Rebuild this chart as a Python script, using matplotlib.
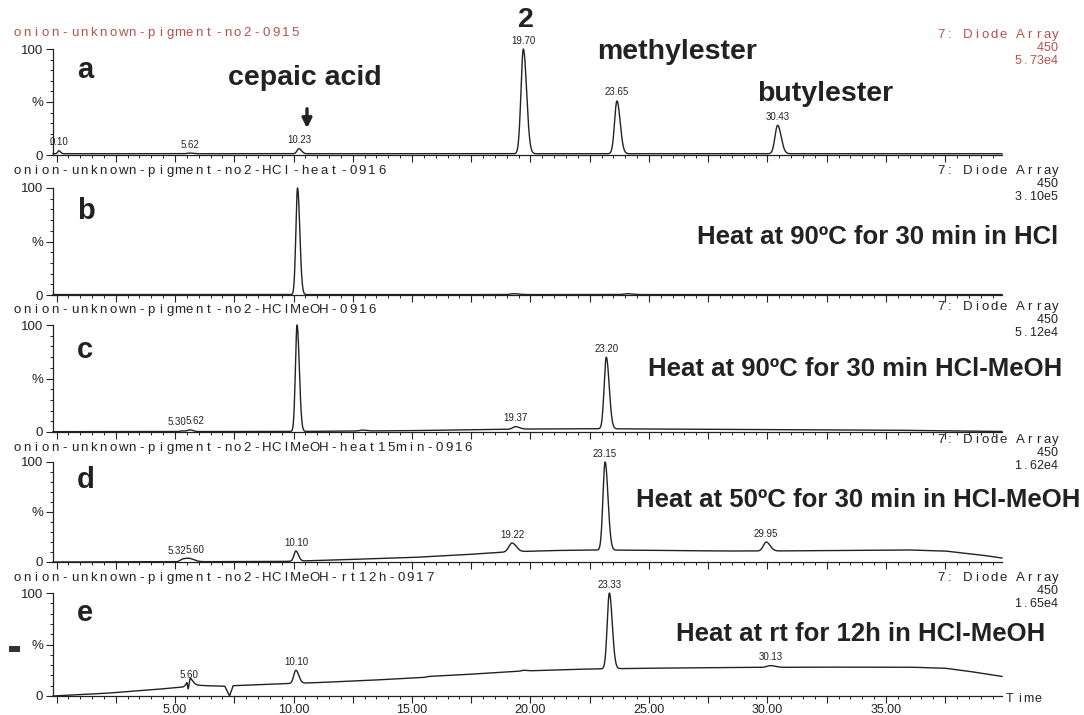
import numpy as np
import matplotlib

matplotlib.use('Agg')
import matplotlib.pyplot as plt
from matplotlib.ticker import MultipleLocator, FuncFormatter
from matplotlib.patches import Rectangle, FancyArrowPatch

W, H = 1084, 715

# run headers
run_names = [
    'onion-unknown-pigment-no2-0915',
    'onion-unknown-pigment-no2-HCl-heat-0916',
    'onion-unknown-pigment-no2-HClMeOH-0916',
    'onion-unknown-pigment-no2-HClMeOH-heat15min-0916',
    'onion-unknown-pigment-no2-HClMeOH-rt12h-0917',
]
panel_letters = ['a', 'b', 'c', 'd', 'e']
channel = '7: Diode Array'
wavelength = '450'
full_scale = ['5.73e4', '3.10e5', '5.12e4', '1.62e4', '1.65e4']
conditions = [
    '',
    'Heat at 90ºC for 30 min in HCl',
    'Heat at 90ºC for 30 min HCl-MeOH',
    'Heat at 50ºC for 30 min in HCl-MeOH',
    'Heat at rt for 12h in HCl-MeOH',
]

# peaks: retention time (min), apex (% of full scale), width (min), labelled?
a_rt = [0.10, 5.62, 10.23, 19.70, 23.65, 30.43]
a_top = [4.0, 1.8, 6.0, 100.0, 51.0, 28.0]
a_sig = [0.05, 0.10, 0.08, 0.10, 0.10, 0.11]
a_lab = [True, True, True, True, True, True]
a_base_t = [-0.15, 39.9]
a_base_y = [1.2, 1.2]

b_rt = [10.17, 19.30, 24.10]
b_top = [100.0, 1.2, 1.2]
b_sig = [0.07, 0.15, 0.15]
b_lab = [False, False, False]
b_base_t = [-0.15, 39.9]
b_base_y = [0.4, 0.4]

c_rt = [5.30, 5.62, 10.15, 12.90, 19.37, 23.20]
c_top = [1.0, 2.0, 100.0, 1.8, 5.0, 70.0]
c_sig = [0.08, 0.10, 0.07, 0.12, 0.12, 0.09]
c_lab = [True, True, False, False, True, True]
c_base_t = [-0.15, 10, 12, 15, 18, 20, 23, 27, 30, 35, 37, 39.9]
c_base_y = [0.3, 0.5, 0.8, 1.3, 2.2, 2.8, 3.0, 2.7, 2.3, 1.8, 1.2, 0.5]

d_rt = [5.32, 5.60, 10.10, 19.22, 23.15, 29.95]
d_top = [2.5, 3.5, 11.0, 19.0, 100.0, 20.0]
d_sig = [0.10, 0.15, 0.08, 0.13, 0.09, 0.12]
d_lab = [True, True, True, True, True, True]
d_base_t = [-0.15, 9.5, 11, 13, 15, 17, 19, 21, 23, 26, 28, 30, 33, 36, 37.5, 39, 39.9]
d_base_y = [0, 0.5, 1.5, 3, 4.5, 7, 10, 11.5, 12, 11.5, 11, 11, 11.5, 12, 11, 7, 4]

e_rt = [5.60, 10.10, 23.33, 30.13]
e_top = [12.5, 25.0, 100.0, 29.5]
e_sig = [0.10, 0.09, 0.09, 0.15]
e_lab = [True, True, True, True]
e_base_t = [-0.15, 2, 4, 5.5, 5.56, 5.64, 6.3, 7.1, 7.3, 7.45, 9, 11, 13, 15.5, 15.7,
            17, 19.5, 19.7, 20, 22, 25, 28, 32, 36, 37.5, 38.5, 39.9]
e_base_y = [0, 2.5, 6, 9, 0.5, 11, 10, 9.5, 0, 10, 11.5, 13, 15, 18, 19,
            20.5, 24, 25, 24.5, 26, 27, 27.5, 28, 28, 27, 24, 19]

peaks = [
    (a_rt, a_top, a_sig, a_lab, a_base_t, a_base_y),
    (b_rt, b_top, b_sig, b_lab, b_base_t, b_base_y),
    (c_rt, c_top, c_sig, c_lab, c_base_t, c_base_y),
    (d_rt, d_top, d_sig, d_lab, d_base_t, d_base_y),
    (e_rt, e_top, e_sig, e_lab, e_base_t, e_base_y),
]

# axes boxes in pixels: top (100 %) and bottom (0 %) rows
ax_rows = [(49, 155), (188, 295), (325, 432), (462, 562), (593, 696)]
ax_left, ax_right = 53, 1002
title_y = [33, 171, 310, 448, 578]
channel_y = [35, 171, 307, 440, 578]
letter_y = [70, 211, 350, 480, 613]
cond_xy = [None, (1058, 237), (1062, 369), (1080, 500), (1045, 634)]

ink = '#222222'
red = '#b5524a'
small_font = 'Liberation Sans'


def fx(px):
    return px / W


def fy(py):
    return 1 - py / H


def spaced(x, y, s, step, ha='left', **kw):
    # typewriter-like spacing of the instrument printout
    x0 = x if ha == 'left' else x - step * len(s)
    for i, ch in enumerate(s):
        fig.text(fx(x0 + step * (i + 0.5)), fy(y), ch, ha='center', va='center',
                 family=small_font, **kw)


def trace(t, rt, top, sig, base_t, base_y):
    y = np.interp(t, base_t, base_y)
    for r, h, s in zip(rt, top, sig):
        amp = h - np.interp(r, base_t, base_y)
        sd = np.where(t < r, s, 1.35 * s)
        y = y + amp * np.exp(-0.5 * ((t - r) / sd) ** 2)
    return y


fig = plt.figure(figsize=(W / 100, H / 100), dpi=100)
t = np.linspace(-0.15, 39.9, 6000)

for i, (rt, top, sig, lab, bt, by) in enumerate(peaks):
    top_px, bot_px = ax_rows[i]
    ax = fig.add_axes([fx(ax_left), fy(bot_px), fx(ax_right - ax_left), (bot_px - top_px) / H])
    ax.plot(t, trace(t, rt, top, sig, bt, by), color=ink, lw=1.0, clip_on=False)
    ax.set_xlim(-0.15, 39.9)
    ax.set_ylim(0, 100)
    for side in ('top', 'right'):
        ax.spines[side].set_visible(False)
    ax.spines['left'].set_bounds(0, 100)
    for side in ('left', 'bottom'):
        ax.spines[side].set_linewidth(0.9)
        ax.spines[side].set_color(ink)
    ax.set_yticks([0, 50, 100])
    ax.set_yticklabels(['0', '%', '100'], family=small_font, fontsize=9.5, color=ink)
    ax.yaxis.set_minor_locator(MultipleLocator(10))
    ax.xaxis.set_major_locator(MultipleLocator(2.5))
    ax.xaxis.set_minor_locator(MultipleLocator(0.5))
    ax.tick_params(axis='both', which='major', direction='out', length=5, width=0.8, color=ink)
    ax.tick_params(axis='both', which='minor', direction='out', length=2.5, width=0.7, color=ink)
    ax.tick_params(axis='y', pad=2)
    ax.patch.set_alpha(0)
    if i == len(peaks) - 1:
        ax.xaxis.set_major_formatter(FuncFormatter(
            lambda v, p: '%.2f' % v if v > 0 and abs(v / 5 - round(v / 5)) < 1e-6 else ''))
        for lbl in ax.get_xticklabels():
            lbl.set_family(small_font)
        ax.tick_params(axis='x', labelsize=9, labelcolor=ink, pad=0.5)
    else:
        ax.tick_params(axis='x', labelbottom=False)

    # retention time labels over the apexes; close neighbours sit side by side
    for k, (r, h, show) in enumerate(zip(rt, top, lab)):
        if not show:
            continue
        ha, dx = 'center', 0
        if k + 1 < len(rt) and lab[k + 1] and rt[k + 1] - r < 1:
            ha, dx = 'right', 3
        elif k > 0 and lab[k - 1] and r - rt[k - 1] < 1:
            ha, dx = 'left', -3
        ax.annotate('%.2f' % r, (r, h), xytext=(dx, 2.5), textcoords='offset points',
                    ha=ha, va='bottom', fontsize=7, family=small_font, color=ink)

    col = red if i == 0 else ink
    spaced(12, title_y[i], run_names[i], 9.6, fontsize=9.5, color=col)
    spaced(1060, channel_y[i], channel, 8.8, ha='right', fontsize=9.5, color=col)
    spaced(1058, channel_y[i] + 13, wavelength, 7.3, ha='right', fontsize=9, color=col)
    spaced(1058, channel_y[i] + 26, full_scale[i], 7.3, ha='right', fontsize=9, color=col)

    fig.text(fx(77), fy(letter_y[i]), panel_letters[i], ha='left', va='center',
             family='Liberation Sans', weight='bold', fontsize=21, color=ink)
    if conditions[i]:
        cx, cy = cond_xy[i]
        fig.text(fx(cx), fy(cy), conditions[i], ha='right', va='center',
                 family='Liberation Sans', weight='bold', fontsize=18.5, color=ink)

# compound names on the reference run
big = dict(family='Liberation Sans', weight='bold', fontsize=20.5, color=ink, va='center')
fig.text(fx(228), fy(78), 'cepaic acid', ha='left', **big)
fig.text(fx(526), fy(20), '2', ha='center', **big)
fig.text(fx(597), fy(52), 'methylester', ha='left', **big)
fig.text(fx(757), fy(94), 'butylester', ha='left', **big)
fig.add_artist(FancyArrowPatch((fx(307), fy(106)), (fx(307), fy(131)), transform=fig.transFigure,
                               arrowstyle='-|>', lw=2.4, color=ink, mutation_scale=14))

spaced(1005, 699, 'Time', 9.5, fontsize=9, color=ink)
fig.add_artist(Rectangle((fx(9), fy(652)), 11 / W, 6 / H, transform=fig.transFigure,
                         color='#333333', lw=0))

fig.savefig('out.png', dpi=100, facecolor='white')
